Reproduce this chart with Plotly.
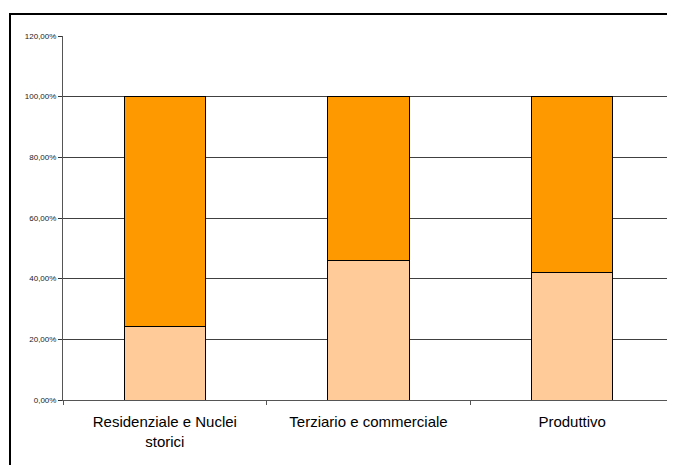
import plotly.graph_objects as go

categories = ["Residenziale e Nuclei<br>storici", "Terziario e commerciale", "Produttivo"]
lower_values = [24.2, 45.9, 42.1]
upper_values = [75.8, 54.1, 57.9]
y_tick_vals = [0, 20, 40, 60, 80, 100, 120]
y_tick_text = ["0,00%", "20,00%", "40,00%", "60,00%", "80,00%", "100,00%", "120,00%"]

fig = go.Figure()
fig.add_trace(go.Bar(x=categories, y=lower_values, marker=dict(color="#FFCC99", line=dict(color="black", width=1)), width=0.4, hoverinfo="y"))
fig.add_trace(go.Bar(x=categories, y=upper_values, marker=dict(color="#FF9900", line=dict(color="black", width=1)), width=0.4, hoverinfo="y"))

# page body adds an 8px offset
W, H = 667, 457
L, R, T, B = 55, 1, 28, 65
pw, ph = W - L - R, H - T - B

def px(x):
    return (x - L) / pw

def py(y):
    return (H - B - y) / ph

fig.update_layout(
    barmode="stack",
    width=W, height=H, autosize=False,
    margin=dict(l=L, r=R, t=T, b=B),
    paper_bgcolor="white", plot_bgcolor="white",
    showlegend=False,
    font=dict(family="Liberation Sans, Arial, sans-serif", color="black"),
    xaxis=dict(
        tickson="boundaries", ticks="outside", ticklen=4, tickcolor="#555",
        showline=True, linecolor="#555", linewidth=1,
        tickfont=dict(size=15, color="black"), showgrid=False,
        ticklabelstandoff=8,
    ),
    yaxis=dict(
        range=[0, 120], tickvals=y_tick_vals, ticktext=y_tick_text,
        ticks="outside", ticklen=4, tickcolor="#333",
        showline=True, linecolor="#555", linewidth=1,
        showgrid=True, gridcolor="#404040", gridwidth=1,
        tickfont=dict(size=8, color="#222"), zeroline=False,
    ),
    shapes=[dict(type="rect", xref="paper", yref="paper",
                 x0=px(2), x1=px(700), y0=py(500), y1=py(6),
                 line=dict(color="black", width=2), layer="below")],
)

fig.write_html("out.html", config={"responsive": False})
